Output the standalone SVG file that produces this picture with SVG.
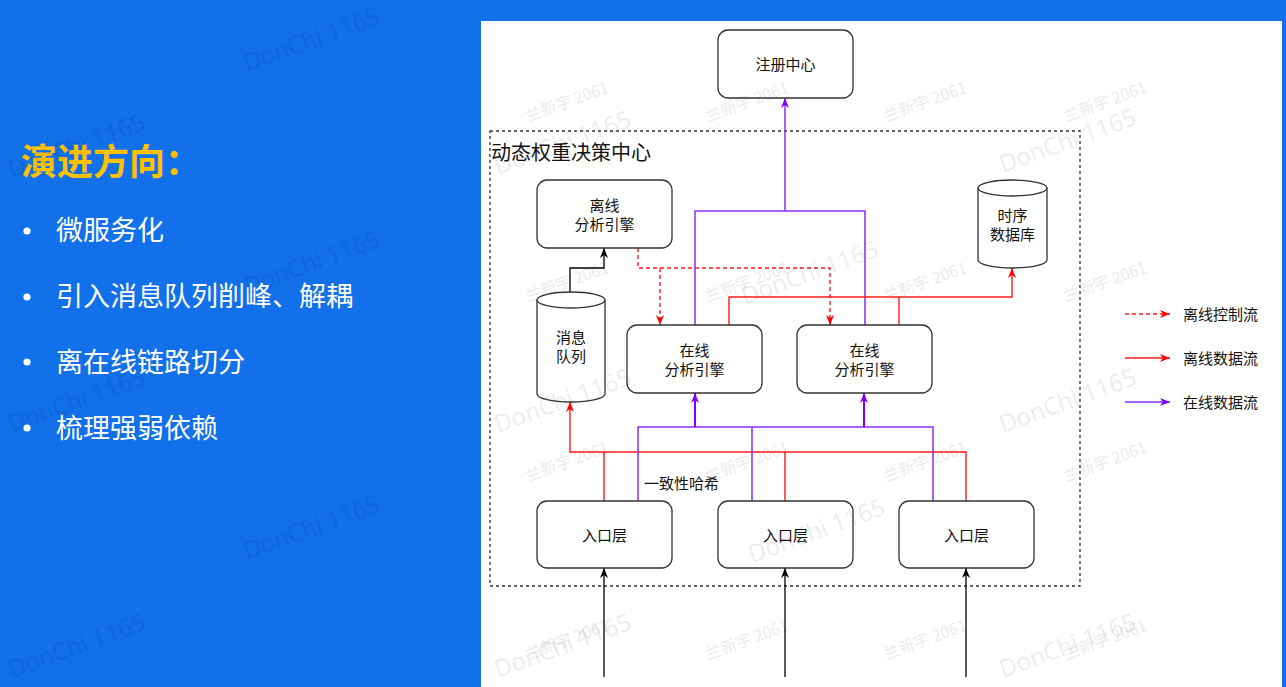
<svg xmlns="http://www.w3.org/2000/svg" width="1286" height="687" viewBox="0 0 1286 687">
<style>
.cjk{font-family:"Noto Sans CJK SC","Noto Sans",sans-serif}
.box{fill:#fff;stroke:#333;stroke-width:1.3}
.lbl{font-size:15px;fill:#111;text-anchor:middle}
.bul{font-size:27px;fill:#fff}
.k{fill:none;stroke:#000;stroke-width:1.3}
.r{fill:none;stroke:#ff1a1a;stroke-width:1.4}
.rd{fill:none;stroke:#ff1a1a;stroke-width:1.4;stroke-dasharray:4 3}
.p{fill:none;stroke:#8a2cf6;stroke-width:1.5}
.p2{fill:none;stroke:#7f00ff;stroke-width:2}
.wm{fill:#000;opacity:0.07;font-family:"Open Sans","Noto Sans",sans-serif;font-size:24px}
.wm2{fill:#000;opacity:0.08;font-family:"Noto Sans CJK SC","Noto Sans",sans-serif;font-size:16px}
</style>
<defs>
<marker id="ak" viewBox="0 0 10 8" refX="10" refY="4" markerWidth="10" markerHeight="8" orient="auto" markerUnits="userSpaceOnUse"><path d="M0,0 L10,4 L0,8 L3,4 Z" fill="#000"/></marker>
<marker id="ar" viewBox="0 0 10 8" refX="10" refY="4" markerWidth="10" markerHeight="8" orient="auto" markerUnits="userSpaceOnUse"><path d="M0,0 L10,4 L0,8 L3,4 Z" fill="#ff0000"/></marker>
<marker id="ap" viewBox="0 0 10 8" refX="10" refY="4" markerWidth="10" markerHeight="8" orient="auto" markerUnits="userSpaceOnUse"><path d="M0,0 L10,4 L0,8 L3,4 Z" fill="#7f00ff"/></marker>
</defs>

<rect x="0" y="0" width="1286" height="687" fill="#1170ea"/>

<g id="left-text" class="cjk">
<text x="21" y="175" font-size="36" font-weight="bold" fill="#ffc000">演进方向：</text>
<circle cx="27" cy="231" r="3.6" fill="#fff"/>
<text class="bul" x="56" y="240">微服务化</text>
<circle cx="27" cy="297" r="3.6" fill="#fff"/>
<text class="bul" x="56" y="306">引入消息队列削峰、解耦</text>
<circle cx="27" cy="362" r="3.6" fill="#fff"/>
<text class="bul" x="56" y="372">离在线链路切分</text>
<circle cx="27" cy="428" r="3.6" fill="#fff"/>
<text class="bul" x="56" y="438">梳理强弱依赖</text>
</g>

<rect x="481" y="21" width="801" height="666" fill="#fff"/>

<g id="container">
<rect x="490" y="131" width="590" height="455" fill="none" stroke="#333" stroke-width="1.3" stroke-dasharray="3 3"/>
<text class="cjk" x="491" y="160" font-size="20" fill="#111">动态权重决策中心</text>
</g>

<g id="connectors">
<path class="p" d="M695,325 V211 H865 V325"/>
<path class="p" d="M785,211 V98" marker-end="url(#ap)"/>
<path class="k" d="M570,292 V268 H604 V248" marker-end="url(#ak)"/>
<path class="rd" d="M638,248 V268 H830 V325" marker-end="url(#ar)"/>
<path class="rd" d="M660,268 V325" marker-end="url(#ar)"/>
<path class="r" d="M729,325 V297 H1012 V268" marker-end="url(#ar)"/>
<path class="r" d="M899,325 V297"/>
<path class="r" d="M604,501 V452 H966 V501"/>
<path class="r" d="M785,501 V452"/>
<path class="r" d="M604,452 H570 V402" marker-end="url(#ar)"/>
<path class="p" d="M638,501 V427 H933 V501"/>
<path class="p" d="M752,501 V427"/>
<path class="p2" d="M695,427 V393" marker-end="url(#ap)"/>
<path class="p2" d="M864,427 V393" marker-end="url(#ap)"/>
<path class="k" d="M604,677 V568" marker-end="url(#ak)"/>
<path class="k" d="M785,677 V568" marker-end="url(#ak)"/>
<path class="k" d="M966,677 V568" marker-end="url(#ak)"/>
<text class="cjk" x="644" y="489" font-size="15" fill="#111">一致性哈希</text>
</g>

<g id="registry" class="cjk">
<rect class="box" x="718" y="30" width="135" height="68" rx="10"/>
<text class="lbl" x="785.5" y="70">注册中心</text>
</g>

<g id="offline-engine" class="cjk">
<rect class="box" x="537" y="180" width="135" height="68" rx="10"/>
<text class="lbl" x="604.5" y="210.5">离线</text>
<text class="lbl" x="604.5" y="229.5">分析引擎</text>
</g>

<g id="tsdb" class="cjk">
<path class="box" d="M978,188 A34.5,8 0 0 1 1047,188 V260 A34.5,8 0 0 1 978,260 Z"/>
<path d="M978,188 A34.5,8 0 0 0 1047,188" fill="none" stroke="#333" stroke-width="1.3"/>
<text class="lbl" x="1012.5" y="220.5">时序</text>
<text class="lbl" x="1012.5" y="239.5">数据库</text>
</g>

<g id="mq" class="cjk">
<path class="box" d="M537,300 A34,8 0 0 1 605,300 V394 A34,8 0 0 1 537,394 Z"/>
<path d="M537,300 A34,8 0 0 0 605,300" fill="none" stroke="#333" stroke-width="1.3"/>
<text class="lbl" x="571" y="342.5">消息</text>
<text class="lbl" x="571" y="361.5">队列</text>
</g>

<g id="online-engine-1" class="cjk">
<rect class="box" x="627" y="325" width="135" height="68" rx="10"/>
<text class="lbl" x="694.5" y="355.5">在线</text>
<text class="lbl" x="694.5" y="374.5">分析引擎</text>
</g>

<g id="online-engine-2" class="cjk">
<rect class="box" x="797" y="325" width="135" height="68" rx="10"/>
<text class="lbl" x="864.5" y="355.5">在线</text>
<text class="lbl" x="864.5" y="374.5">分析引擎</text>
</g>

<g id="entry-1" class="cjk">
<rect class="box" x="537" y="501" width="135" height="67" rx="10"/>
<text class="lbl" x="604.5" y="540.5">入口层</text>
</g>
<g id="entry-2" class="cjk">
<rect class="box" x="718" y="501" width="135" height="67" rx="10"/>
<text class="lbl" x="785.5" y="540.5">入口层</text>
</g>
<g id="entry-3" class="cjk">
<rect class="box" x="899" y="501" width="135" height="67" rx="10"/>
<text class="lbl" x="966.5" y="540.5">入口层</text>
</g>

<g id="legend" class="cjk">
<path class="rd" d="M1125,314 H1170" marker-end="url(#ar)"/>
<text x="1183" y="319.5" font-size="15" fill="#111">离线控制流</text>
<path class="r" d="M1125,358 H1170" marker-end="url(#ar)"/>
<text x="1183" y="363.5" font-size="15" fill="#111">离线数据流</text>
<path class="p" d="M1125,402 H1170" marker-end="url(#ap)"/>
<text x="1183" y="407.5" font-size="15" fill="#111">在线数据流</text>
</g>

<rect x="1282" y="21" width="4" height="666" fill="#1170ea"/>

<g id="watermarks">
<text class="wm2" transform="translate(528,122) rotate(-20)">兰新宇 2061</text>
<text class="wm2" transform="translate(708,122) rotate(-20)">兰新宇 2061</text>
<text class="wm2" transform="translate(886,122) rotate(-20)">兰新宇 2061</text>
<text class="wm2" transform="translate(1066,122) rotate(-20)">兰新宇 2061</text>
<text class="wm2" transform="translate(528,302) rotate(-20)">兰新宇 2061</text>
<text class="wm2" transform="translate(708,302) rotate(-20)">兰新宇 2061</text>
<text class="wm2" transform="translate(886,302) rotate(-20)">兰新宇 2061</text>
<text class="wm2" transform="translate(1066,302) rotate(-20)">兰新宇 2061</text>
<text class="wm2" transform="translate(528,482) rotate(-20)">兰新宇 2061</text>
<text class="wm2" transform="translate(708,482) rotate(-20)">兰新宇 2061</text>
<text class="wm2" transform="translate(886,482) rotate(-20)">兰新宇 2061</text>
<text class="wm2" transform="translate(1066,482) rotate(-20)">兰新宇 2061</text>
<text class="wm2" transform="translate(528,660) rotate(-20)">兰新宇 2061</text>
<text class="wm2" transform="translate(708,660) rotate(-20)">兰新宇 2061</text>
<text class="wm2" transform="translate(886,660) rotate(-20)">兰新宇 2061</text>
<text class="wm2" transform="translate(1066,660) rotate(-20)">兰新宇 2061</text>
<text class="wm" transform="translate(12,178) rotate(-20)">DonChi 1165</text>
<text class="wm" transform="translate(12,433) rotate(-20)">DonChi 1165</text>
<text class="wm" transform="translate(12,678) rotate(-20)">DonChi 1165</text>
<text class="wm" transform="translate(247,72) rotate(-20)">DonChi 1165</text>
<text class="wm" transform="translate(247,295) rotate(-20)">DonChi 1165</text>
<text class="wm" transform="translate(247,560) rotate(-20)">DonChi 1165</text>
<text class="wm" transform="translate(498,175) rotate(-20)">DonChi 1165</text>
<text class="wm" transform="translate(498,433) rotate(-20)">DonChi 1165</text>
<text class="wm" transform="translate(498,678) rotate(-20)">DonChi 1165</text>
<text class="wm" transform="translate(745,305) rotate(-20)">DonChi 1165</text>
<text class="wm" transform="translate(752,563) rotate(-20)">DonChi 1165</text>
<text class="wm" transform="translate(1003,173) rotate(-20)">DonChi 1165</text>
<text class="wm" transform="translate(1003,433) rotate(-20)">DonChi 1165</text>
<text class="wm" transform="translate(1003,678) rotate(-20)">DonChi 1165</text>
</g>
</svg>
